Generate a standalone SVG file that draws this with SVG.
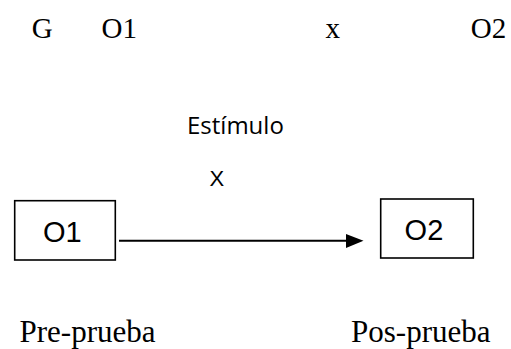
<svg xmlns="http://www.w3.org/2000/svg" width="511" height="349" viewBox="0 0 511 349">
<style>
.serif{font-family:"Liberation Serif","Times New Roman",serif;fill:#000}
.sans{font-family:"Liberation Sans",Arial,sans-serif;fill:#000}
.box{fill:#fff;stroke:#000;stroke-width:1.6}
</style>
<rect width="511" height="349" fill="#fff"/>
<g id="header">
<text class="serif" x="31.8" y="37.5" font-size="29">G</text>
<text class="serif" x="101.5" y="37.5" font-size="29">O1</text>
<text class="serif" x="325.5" y="37.5" font-size="29">x</text>
<text class="serif" x="470.8" y="37.5" font-size="29">O2</text>
</g>
<g id="stimulus">
<text x="187" y="134" font-size="24" font-family="'Open Sans','Liberation Sans',sans-serif" fill="#000">Estímulo</text>
<text class="sans" x="209.5" y="186" font-size="22">X</text>
</g>
<g id="node-o1">
<rect class="box" x="14.7" y="200.7" width="100.6" height="59.3"/>
<text class="sans" x="43" y="241.5" font-size="29">O1</text>
</g>
<g id="node-o2">
<rect class="box" x="380.7" y="199" width="92.6" height="59"/>
<text class="sans" x="404.6" y="239.5" font-size="29">O2</text>
</g>
<g id="connectors">
<line x1="119" y1="240.8" x2="348" y2="240.8" stroke="#000" stroke-width="2"/>
<polygon points="346,234 363.5,240.8 346,248" fill="#000"/>
</g>
<g id="labels">
<text class="serif" x="19.5" y="342" font-size="31">Pre-prueba</text>
<text class="serif" x="351" y="342" font-size="31">Pos-prueba</text>
</g>
</svg>
